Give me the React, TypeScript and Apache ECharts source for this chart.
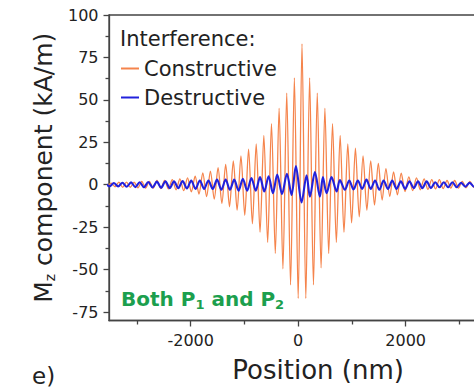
import React, { useEffect, useRef } from 'react';
import * as echarts from 'echarts';

// Axis ticks
const xMajorTicks = [-2000, 0, 2000];
const xMinorTicks = [-3000, -1000, 1000, 3000];
const yMajorTicks = [-75, -50, -25, 0, 25, 50, 75, 100];
const yMinorTicks = [-62.5, -37.5, -12.5, 12.5, 37.5, 62.5, 87.5];

// Constructive interference: extrema positions (nm) and Mz values (kA/m)
const constructivePos = [
  -3550, -3479, -3408, -3337, -3266, -3195, -3124, -3053, -2982, -2911,
  -2840, -2769, -2698, -2627, -2556, -2485, -2414, -2343, -2272, -2201,
  -2130, -2059, -1988, -1917, -1846, -1775, -1704, -1633, -1562, -1491,
  -1420, -1349, -1278, -1207, -1136, -1065, -994, -923, -852, -781,
  -710, -639, -568, -497, -426, -355, -284, -213, -142, -71,
  0, 71, 142, 213, 284, 355, 426, 497, 568, 639,
  710, 781, 852, 923, 994, 1065, 1136, 1207, 1278, 1349,
  1420, 1491, 1562, 1633, 1704, 1775, 1846, 1917, 1988, 2059,
  2130, 2201, 2272, 2343, 2414, 2485, 2556, 2627, 2698, 2769,
  2840, 2911, 2982, 3053, 3124, 3195, 3266, 3337,
];
const constructiveVal = [
  -1, 1, -1.2, 1.5, -1.5, 1.5, -1.5, 1.5, -1.8, 2,
  -2, 2, -2, 2.5, -2.3, 2.5, -2.5, 3, -3, 3.5,
  -3.5, 4, -4.2, 5, -5.5, 7, -7, 8, -8.5, 10,
  -11, 12, -13, 14, -15, 17, -18, 21, -23, 24,
  -28, 29, -34, 36, -40.5, 45, -49.5, 54, -59, 63,
  -67, 83, -67, 63, -59, 54, -49, 45, -40.5, 36,
  -34, 29, -28, 24, -22.5, 21.5, -19, 17, -15, 14,
  -12, 12.5, -9, 9.5, -7, 7.5, -6, 6.8, -4, 4.6,
  -3.5, 4, -3, 3.5, -2.8, 3, -2.5, 3, -2.3, 2.5,
  -2, 2.5, -2, 2, -1.8, 2, -1.5, 1.5,
];

// Destructive interference: extrema positions (nm) and Mz values (kA/m)
const destructivePos = [
  -3590, -3510, -3430, -3350, -3270, -3190, -3110, -3030, -2950, -2870,
  -2790, -2710, -2630, -2550, -2470, -2390, -2310, -2230, -2150, -2070,
  -1990, -1910, -1830, -1750, -1670, -1590, -1510, -1430, -1350, -1270,
  -1190, -1110, -1030, -950, -870, -790, -710, -630, -550, -470,
  -390, -300, -210, -123, -43, 63, 156, 218, 311, 404,
  460, 528, 621, 714, 776, 869, 950, 1030, 1110, 1190,
  1270, 1350, 1430, 1510, 1590, 1670, 1750, 1830, 1910, 1990,
  2070, 2150, 2230, 2310, 2390, 2470, 2550, 2630, 2710, 2790,
  2870, 2950, 3030, 3110, 3190, 3270, 3350,
];
const destructiveVal = [
  0.8, -1, 1, -1, 1.2, -1.2, 1.4, -1.4, 1.5, -1.5,
  1.6, -1.6, 1.8, -1.8, 2, -2, 2, -2, 2.2, -2.2,
  2.5, -2.5, 2.5, -2.5, 2.5, -2.5, 3, -3, 3, -3,
  3, -3.5, 3.5, -3.5, 4, -3.5, 4.5, -4, 5, -5,
  6, -5.5, 6.5, -6, 11, -10.5, 5.6, -7, 7.5, -7,
  4.5, -5, 4.5, -4, 2.7, -3, 2.5, -2.8, 2.5, -2.5,
  3, -2.5, 2.5, -3, 2.5, -2.5, 2.5, -2.5, 2, -2.5,
  2, -2, 2, -2, 2, -2, 1.5, -1.5, 1.5, -1.5,
  1.5, -1.5, 1.2, -1.2, 1.2, -1.2, 1,
];

const FONT = 'DejaVu Sans';
const AXIS = '#444';
const TEXT = '#222';

export default function App() {
  const ref = useRef<HTMLDivElement>(null);
  useEffect(() => {
    if (!ref.current) return;
    const chart = echarts.init(ref.current, undefined, { renderer: 'svg' });
    const axisLineStyle = { color: AXIS, width: 1.3 };
    chart.setOption({
      animation: false,
      backgroundColor: '#fff',
      grid: {
        left: 109, top: 15, width: 377.3, height: 305.5,
        show: true, borderColor: AXIS, borderWidth: 1.3, backgroundColor: 'transparent',
      },
      title: {
        text: 'Interference:', left: 120, top: 28, padding: 0,
        textStyle: { fontFamily: FONT, fontSize: 21, fontWeight: 'normal', color: TEXT },
      },
      legend: {
        data: ['Constructive', 'Destructive'],
        orient: 'vertical', left: 120, top: 58, padding: 0,
        itemWidth: 18, itemHeight: 14, itemGap: 8,
        itemStyle: { opacity: 0 },
        textStyle: { fontFamily: FONT, fontSize: 21, color: TEXT },
      },
      xAxis: [
        {
          type: 'value', min: -3520, max: 3500, position: 'bottom',
          axisLine: { show: true, onZero: false, lineStyle: axisLineStyle },
          axisTick: { show: true, customValues: xMajorTicks, length: 6, lineStyle: axisLineStyle },
          axisLabel: {
            customValues: xMajorTicks, margin: 12, fontFamily: FONT, fontSize: 16, color: TEXT,
            formatter: (v: number) => String(v),
          },
          splitLine: { show: false },
          name: 'Position (nm)', nameLocation: 'middle', nameGap: 36,
          nameTextStyle: { fontFamily: FONT, fontSize: 26, color: TEXT, padding: [0, 0, 0, 41] },
        },
        {
          type: 'value', min: -3520, max: 3500, position: 'bottom',
          axisLine: { show: false, onZero: false },
          axisTick: { show: true, customValues: xMinorTicks, length: 4, lineStyle: axisLineStyle },
          axisLabel: { show: false },
          splitLine: { show: false },
        },
      ],
      yAxis: [
        {
          type: 'value', min: -80, max: 100, position: 'left',
          axisLine: { show: true, onZero: false, lineStyle: axisLineStyle },
          axisTick: { show: true, customValues: yMajorTicks, length: 5.5, lineStyle: axisLineStyle },
          axisLabel: {
            customValues: yMajorTicks, margin: 10.5, fontFamily: FONT, fontSize: 16, color: TEXT,
            formatter: (v: number) => String(v),
          },
          splitLine: { show: false },
          name: '{a|M}{s|z}{a| component (kA/m)}', nameLocation: 'middle', nameGap: 50, nameRotate: 90,
          nameTextStyle: {
            color: TEXT,
            rich: {
              a: { fontFamily: FONT, fontSize: 25, color: TEXT, lineHeight: 28 },
              s: { fontFamily: FONT, fontSize: 14, color: TEXT, lineHeight: 12, verticalAlign: 'bottom' },
            },
          },
        },
        {
          type: 'value', min: -80, max: 100, position: 'left',
          axisLine: { show: false, onZero: false },
          axisTick: { show: true, customValues: yMinorTicks, length: 3.5, lineStyle: axisLineStyle },
          axisLabel: { show: false },
          splitLine: { show: false },
        },
      ],
      graphic: [
        {
          type: 'text', left: 121, top: 289,
          style: {
            text: '{a|Both P}{s|1}{a| and P}{s|2}',
            rich: {
              a: { fontFamily: FONT, fontSize: 20, fontWeight: 'bold', fill: '#1c9f4e', lineHeight: 24 },
              s: { fontFamily: FONT, fontSize: 13, fontWeight: 'bold', fill: '#1c9f4e', lineHeight: 10, verticalAlign: 'bottom' },
            },
          },
        },
        {
          type: 'text', left: 32, top: 364,
          style: { text: 'e)', fontFamily: FONT, fontSize: 23, fill: TEXT },
        },
      ],
      series: [
        {
          name: 'Constructive', type: 'line', xAxisIndex: 0, yAxisIndex: 0,
          data: constructivePos.map((x, i) => [x, constructiveVal[i]]),
          symbol: 'none', smooth: 0.3,
          lineStyle: { color: '#f5844c', width: 1.3 },
          itemStyle: { color: '#f5844c' },
        },
        {
          name: 'Destructive', type: 'line', xAxisIndex: 0, yAxisIndex: 0,
          data: destructivePos.map((x, i) => [x, destructiveVal[i]]),
          symbol: 'none', smooth: 0.3,
          lineStyle: { color: '#2121dc', width: 2.1 },
          itemStyle: { color: '#2121dc' },
        },
      ],
    });
    return () => chart.dispose();
  }, []);
  return (
    <div style={{ position: 'absolute', left: 0, top: 0, width: 474, height: 390, overflow: 'hidden', background: '#fff' }}>
      <div ref={ref} style={{ width: 520, height: 390 }} />
    </div>
  );
}
